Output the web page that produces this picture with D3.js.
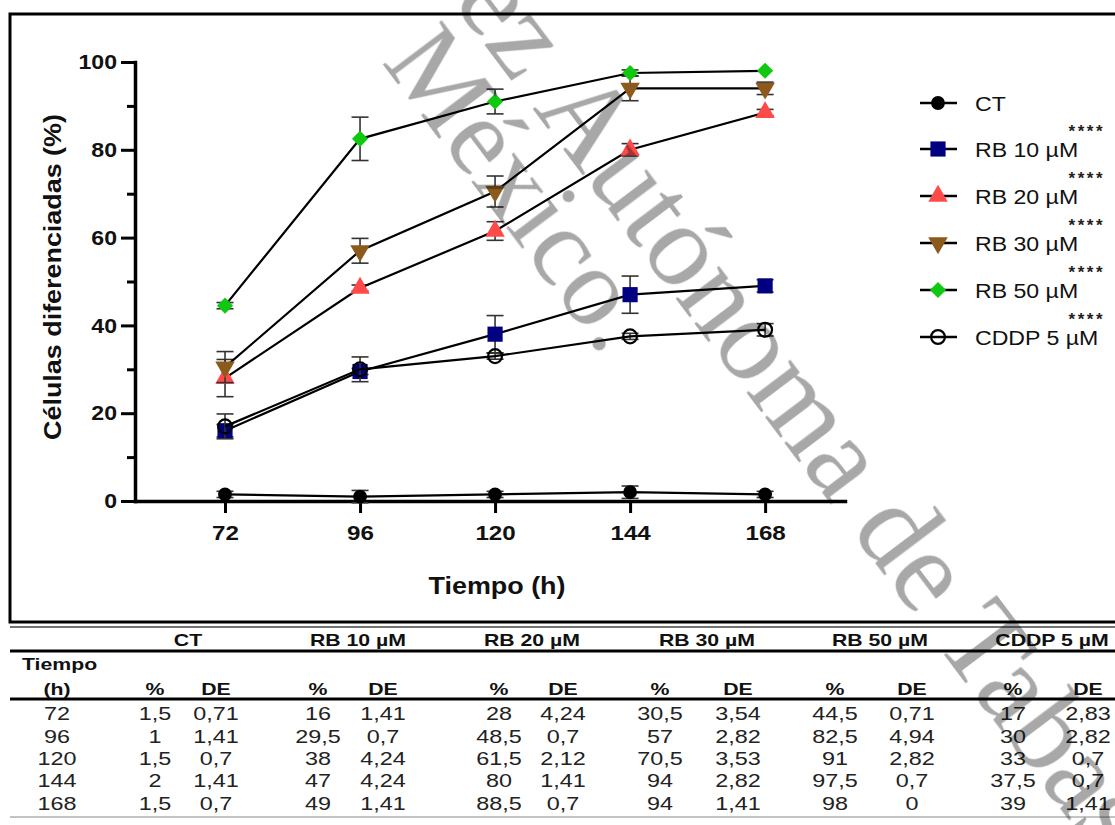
<!DOCTYPE html>
<html>
<head>
<meta charset="utf-8">
<script src="https://cdn.jsdelivr.net/npm/d3@7"></script>
<style>
  body { margin: 0; background: #fff; }
  svg { display: block; }
  text { font-family: "Liberation Sans", Arial, sans-serif; }
</style>
</head>
<body>
<svg id="chart" width="1115" height="825"></svg>
<script>
// ---- data ----
const hours = [72, 96, 120, 144, 168];
const seriesNames = ["CT", "RB 10 µM", "RB 20 µM", "RB 30 µM", "RB 50 µM", "CDDP 5 µM"];
const ctMean   = [1.5, 1, 1.5, 2, 1.5];
const ctSD     = [0.71, 1.41, 0.7, 1.41, 0.7];
const rb10Mean = [16, 29.5, 38, 47, 49];
const rb10SD   = [1.41, 0.7, 4.24, 4.24, 1.41];
const rb20Mean = [28, 48.5, 61.5, 80, 88.5];
const rb20SD   = [4.24, 0.7, 2.12, 1.41, 0.7];
const rb30Mean = [30.5, 57, 70.5, 94, 94];
const rb30SD   = [3.54, 2.82, 3.53, 2.82, 1.41];
const rb50Mean = [44.5, 82.5, 91, 97.5, 98];
const rb50SD   = [0.71, 4.94, 2.82, 0.7, 0];
const cddpMean = [17, 30, 33, 37.5, 39];
const cddpSD   = [2.83, 2.82, 0.7, 0.7, 1.41];
const significance = ["****", "****", "****", "****", "****"];
const yTicks = [0, 20, 40, 60, 80, 100];
const yMinorTicks = [10, 30, 50, 70, 90];
const yTitle = "Células diferenciadas (%)";
const xTitle = "Tiempo (h)";
const tableTimeHeader = ["Tiempo", "(h)"];
const tableSubHeaders = ["%", "DE"];
const watermarkLine1a = "Universidad Juárez";
const watermarkLine1b = "Autónoma de Tabasco";
const watermarkLine2 = "México.";

const means = [ctMean, rb10Mean, rb20Mean, rb30Mean, rb50Mean, cddpMean];
const sds = [ctSD, rb10SD, rb20SD, rb30SD, rb50SD, cddpSD];

// ---- styles ----
const seriesStyle = [
  { shape: "circle",   fill: "#000",    stroke: "none", size: 150, rot: 0 },
  { shape: "square",   fill: "#000080", stroke: "none", size: 230, rot: 0 },
  { shape: "triangle", fill: "#ff4a4a", stroke: "none", size: 165, rot: 0 },
  { shape: "triangle", fill: "#8c5a1c", stroke: "none", size: 165, rot: 180 },
  { shape: "square",   fill: "#10c810", stroke: "none", size: 130, rot: 45 },
  { shape: "circle",   fill: "none",    stroke: "#000", size: 150, rot: 0 }
];
const symbolType = { circle: d3.symbolCircle, square: d3.symbolSquare, triangle: d3.symbolTriangle };

const svg = d3.select("#chart");

// horizontally widened text: place at (x, y) with optional rotation
function wideText(parent, x, y, str, sx, opts) {
  const o = opts || {};
  const t = parent.append("text")
    .attr("transform", `translate(${x},${y})${o.rot ? ` rotate(${o.rot})` : ""} scale(${sx},1)`)
    .attr("text-anchor", o.anchor || "start")
    .style("font-size", o.size + "px")
    .style("font-weight", o.bold ? "bold" : "normal")
    .attr("fill", o.fill || "#111")
    .text(str);
  if (o.dy) t.attr("dy", o.dy);
  return t;
}

// ---- scales ----
const x = d3.scaleLinear().domain([56, 182.2]).range([135, 845]);
const y = d3.scaleLinear().domain([0, 100]).range([501, 62]);

// outer frame of the figure panel
svg.append("rect")
  .attr("x", 10).attr("y", 14).attr("width", 1130).attr("height", 608)
  .attr("fill", "none").attr("stroke", "#000").attr("stroke-width", 3);

// ---- axes ----
const yAxis = svg.append("g").attr("transform", "translate(135,0)")
  .call(d3.axisLeft(y).tickValues(yTicks).tickSize(14).tickSizeOuter(0).tickPadding(4));
const yMinor = svg.append("g").attr("transform", "translate(135,0)")
  .call(d3.axisLeft(y).tickValues(yMinorTicks).tickSize(8).tickSizeOuter(0).tickFormat(""));
yMinor.select(".domain").remove();
const xAxis = svg.append("g").attr("transform", "translate(0,501)")
  .call(d3.axisBottom(x).tickValues(hours).tickSize(12).tickSizeOuter(0).tickPadding(12));

[yAxis, yMinor, xAxis].forEach(g => {
  g.selectAll(".domain").attr("stroke", "#000").attr("stroke-width", 3.5).attr("stroke-linecap", "square");
  g.selectAll(".tick line").attr("stroke", "#000").attr("stroke-width", 3);
  g.selectAll(".tick text").attr("fill", "#111")
    .style("font-family", "'Liberation Sans', Arial, sans-serif")
    .style("font-size", "21px").style("font-weight", "bold");
});
// widen tick labels around their anchor
yAxis.selectAll(".tick text").each(function () {
  const t = d3.select(this);
  const tx = +t.attr("x");
  t.attr("x", 0).attr("transform", `translate(${tx},0) scale(1.1,1)`);
});
xAxis.selectAll(".tick text").attr("transform", "scale(1.15,1)");

// axis titles
wideText(svg, 61, 277, yTitle, 1.17, { rot: -90, anchor: "middle", size: 23, bold: true });
wideText(svg, 497, 594, xTitle, 1.17, { anchor: "middle", size: 23, bold: true });

// ---- series ----
const line = d3.line().x(d => x(d.h)).y(d => y(d.v));
const plot = svg.append("g");

function marker(sel, st) {
  sel.attr("d", d3.symbol().type(symbolType[st.shape]).size(st.size)())
    .attr("fill", st.fill)
    .attr("stroke", st.stroke)
    .attr("stroke-width", st.stroke === "none" ? 0 : 2.2);
}

means.forEach((m, i) => {
  const st = seriesStyle[i];
  const pts = hours.map((h, j) => ({ h: h, v: m[j], sd: sds[i][j] }));
  const g = plot.append("g");
  // error bars (mean ± DE)
  const eb = g.selectAll("g.eb").data(pts.filter(d => d.sd > 0)).join("g").attr("class", "eb");
  eb.append("line")
    .attr("x1", d => x(d.h)).attr("x2", d => x(d.h))
    .attr("y1", d => y(d.v - d.sd)).attr("y2", d => y(d.v + d.sd))
    .attr("stroke", "#333").attr("stroke-width", 1.6);
  [-1, 1].forEach(s => {
    eb.append("line")
      .attr("x1", d => x(d.h) - 8.5).attr("x2", d => x(d.h) + 8.5)
      .attr("y1", d => y(d.v + s * d.sd)).attr("y2", d => y(d.v + s * d.sd))
      .attr("stroke", "#333").attr("stroke-width", 1.6);
  });
  g.append("path").datum(pts).attr("d", line)
    .attr("fill", "none").attr("stroke", "#000").attr("stroke-width", 2.2);
  g.selectAll("path.mk").data(pts).join("path").attr("class", "mk")
    .attr("transform", d => `translate(${x(d.h)},${y(d.v)}) rotate(${st.rot})`)
    .call(marker, st);
});

// ---- legend ----
const legendRows = [103, 149, 196, 243, 290, 337];
const legend = svg.append("g");
seriesNames.forEach((name, i) => {
  const st = seriesStyle[i];
  const ry = legendRows[i];
  legend.append("line").attr("x1", 920).attr("x2", 957).attr("y1", ry).attr("y2", ry)
    .attr("stroke", "#000").attr("stroke-width", 2.5);
  legend.append("path").attr("transform", `translate(938,${ry}) rotate(${st.rot})`).call(marker, st);
  wideText(legend, 975, ry, name, 1.1, { size: 21, dy: "0.36em" });
});
significance.forEach((s, i) => {
  const t = wideText(legend, 1105, (legendRows[i] + legendRows[i + 1]) / 2 + 11, s, 1.0,
    { anchor: "end", size: 17, bold: true, fill: "#222" });
  t.style("letter-spacing", "2.5px");
});

// ---- table ----
const table = svg.append("g");
const groupCenters = [188, 358, 532, 707, 880, 1052];
const colCenters = [[155, 216], [318, 383], [499, 563], [660, 738], [835, 912], [1013, 1088]];
const rowBase = [720, 743, 765, 787, 810];
const fmt = v => String(v).replace(".", ",");

function rule(yy, w, c) {
  table.append("line").attr("x1", 10).attr("x2", 1115).attr("y1", yy).attr("y2", yy)
    .attr("stroke", c).attr("stroke-width", w);
}
rule(627, 1.5, "#444");
rule(651, 3, "#000");
rule(699, 3, "#000");
rule(817, 1, "#888");

seriesNames.forEach((name, i) => {
  wideText(table, groupCenters[i], 646, name, 1.25, { anchor: "middle", size: 17, bold: true });
  tableSubHeaders.forEach((h, k) => {
    wideText(table, colCenters[i][k], 695, h, 1.25, { anchor: "middle", size: 17, bold: true });
  });
  hours.forEach((h, j) => {
    wideText(table, colCenters[i][0], rowBase[j], fmt(means[i][j]), 1.3, { anchor: "middle", size: 18, fill: "#222" });
    wideText(table, colCenters[i][1], rowBase[j], fmt(sds[i][j]), 1.3, { anchor: "middle", size: 18, fill: "#222" });
  });
});
wideText(table, 22, 670, tableTimeHeader[0], 1.25, { size: 17, bold: true });
wideText(table, 57, 695, tableTimeHeader[1], 1.25, { anchor: "middle", size: 17, bold: true });
hours.forEach((h, j) => {
  wideText(table, 57, rowBase[j], String(h), 1.3, { anchor: "middle", size: 18, fill: "#222" });
});

// ---- watermark ----
const wm = svg.append("g").style("mix-blend-mode", "multiply").attr("fill", "#a8a8a8");
function wmText(str, px, py, anchor, dx, size) {
  return wm.append("text").attr("transform", `translate(${px},${py}) rotate(53)`)
    .attr("text-anchor", anchor).attr("dx", dx)
    .style("font-family", "'Liberation Serif', 'Times New Roman', serif")
    .style("font-size", size + "px")
    .text(str);
}
wmText(watermarkLine1b, 532, 108, "start", 0, 118);
wmText(watermarkLine1a, 532, 108, "end", "-0.25em", 118);
wmText(watermarkLine2, 381, 62, "start", 0, 112);
</script>
</body>
</html>
